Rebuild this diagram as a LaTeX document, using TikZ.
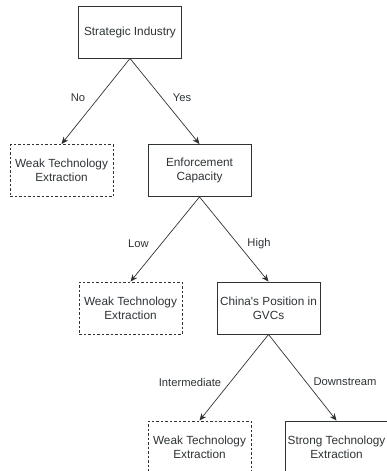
\documentclass[tikz,border=0pt]{standalone}
\usepackage{fontspec}
\setmainfont{Liberation Sans}[Ligatures=TeXOff]
\usetikzlibrary{arrows.meta}
\definecolor{ink}{HTML}{2E3336}
\begin{document}
\begin{tikzpicture}[x=1pt,y=-1pt,
  box/.style={draw=ink,line width=0.9pt,minimum width=103pt,minimum height=52pt,inner sep=0pt,align=center,text=ink,font=\fontsize{11.8}{13.8}\selectfont},
  weak/.style={box,dashed,dash pattern=on 2.5pt off 2pt},
  lbl/.style={text=ink,font=\fontsize{11.2}{13}\selectfont,inner sep=0pt},
  conn/.style={draw=ink,line width=0.7pt,-{Stealth[length=7pt,width=6pt,inset=2pt]}}]
\useasboundingbox (0,0) rectangle (387,471);
\node[box] (si) at (130,32) {Strategic Industry};
\node[weak] (w1) at (61.5,170.5) {Weak Technology\\Extraction};
\node[box] (ec) at (199.5,170.5) {Enforcement\\Capacity};
\node[weak] (w2) at (130.5,308) {Weak Technology\\Extraction};
\node[box] (cp) at (268.5,308) {China's Position in\\GVCs};
\node[weak] (w3) at (199.5,447) {Weak Technology\\Extraction};
\node[box] (st) at (336.5,447) {Strong Technology\\Extraction};
\draw[conn] (si.south) -- (w1.north);
\draw[conn] (si.south) -- (ec.north);
\draw[conn] (ec.south) -- (w2.north);
\draw[conn] (ec.south) -- (cp.north);
\draw[conn] (cp.south) -- (w3.north);
\draw[conn] (cp.south) -- (st.north);
\node[lbl] (lno) at (78,97.5) {No};
\node[lbl] (lyes) at (182,97.5) {Yes};
\node[lbl] (llow) at (138.5,244) {Low};
\node[lbl] (lhigh) at (259,244) {High};
\node[lbl] (lint) at (190,382) {Intermediate};
\node[lbl] (ldown) at (345,382) {Downstream};
\end{tikzpicture}
\end{document}
